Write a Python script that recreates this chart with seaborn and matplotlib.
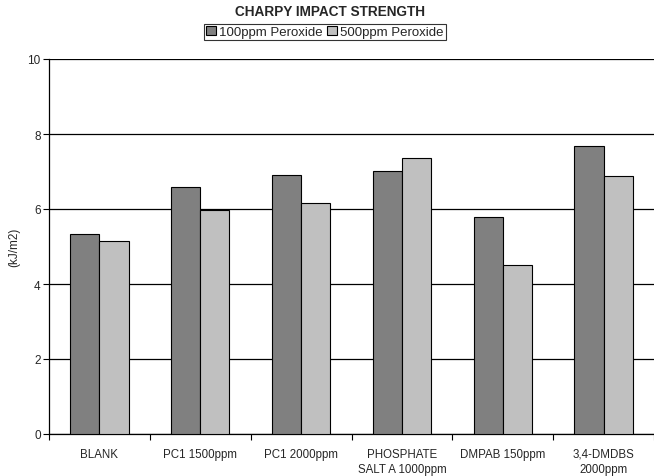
import numpy as np
import pandas as pd
import matplotlib
matplotlib.use("Agg")
import matplotlib.pyplot as plt
import seaborn as sns

categories = ["BLANK", "PC1 1500ppm", "PC1 2000ppm", "PHOSPHATE\nSALT A 1000ppm",
              "DMPAB 150ppm", "3,4-DMDBS\n2000ppm"]
series_names = ["100ppm Peroxide", "500ppm Peroxide"]
vals_100 = [5.33, 6.58, 6.90, 7.02, 5.78, 7.67]
vals_500 = [5.14, 5.97, 6.15, 7.37, 4.52, 6.87]
yticks = [0, 2, 4, 6, 8, 10]

df = pd.DataFrame({
    "cat": categories * 2,
    "series": [series_names[0]] * 6 + [series_names[1]] * 6,
    "value": vals_100 + vals_500,
})

sns.set_theme(style="white")
plt.rcParams["font.family"] = ["Liberation Sans", "DejaVu Sans"]

fig = plt.figure(figsize=(6.54, 4.77), dpi=100)
ax = fig.add_axes([49/654, 1-435/477, 1-49/654, (435-60)/477])

sns.barplot(data=df, x="cat", y="value", hue="series", order=categories,
            hue_order=series_names, palette=["#808080", "#C0C0C0"],
            width=0.58, gap=0, edgecolor="black", linewidth=0.8,
            saturation=1, errorbar=None, ax=ax, zorder=3)

ax.set_ylim(0, 10)
ax.set_xlim(-0.5, 5.5)
ax.set_yticks(yticks)
ax.set_yticklabels([str(t) for t in yticks], fontsize=8.5)
ax.yaxis.grid(True, color="black", linewidth=0.9)
ax.set_axisbelow(True)

ax.set_xticks(np.arange(-0.5, 6, 1))
ax.set_xticklabels([""] * 7)
ax.set_xticks(range(6), categories, minor=True)
for lab in ax.get_xticklabels(minor=True):
    lab.set_linespacing(1.3)
ax.tick_params(axis="x", which="major", direction="out", length=4, width=0.8, color="black", bottom=True)
ax.tick_params(axis="x", which="minor", length=0, labelsize=8.3, pad=10)
ax.tick_params(axis="y", direction="out", length=4, width=0.8, color="black", left=True, labelsize=8.5, pad=2)

for s in ["top", "right"]:
    ax.spines[s].set_visible(False)
for s in ["left", "bottom"]:
    ax.spines[s].set_color("black")
    ax.spines[s].set_linewidth(0.9)

ax.set_xlabel("")
ax.set_ylabel("(kJ/m2)", fontsize=8.5, labelpad=5)

fig.text(330/654, 1-12/477, "CHARPY IMPACT STRENGTH", ha="center", va="center",
         fontsize=9.8, fontweight="bold")

ax.get_legend().remove()
handles = [plt.Rectangle((0, 0), 1, 1, facecolor=c, edgecolor="black", linewidth=0.8)
           for c in ["#808080", "#C0C0C0"]]
leg = fig.legend(handles, series_names, loc="center", bbox_to_anchor=(325/654, 1-33/477),
                 ncol=2, fontsize=9.5, frameon=True, fancybox=False, edgecolor="black",
                 handlelength=0.75, handleheight=0.75, handletextpad=0.25, columnspacing=0.3,
                 borderpad=0.15, borderaxespad=0)
leg.get_frame().set_linewidth(0.8)

fig.savefig("out.png", dpi=100)
